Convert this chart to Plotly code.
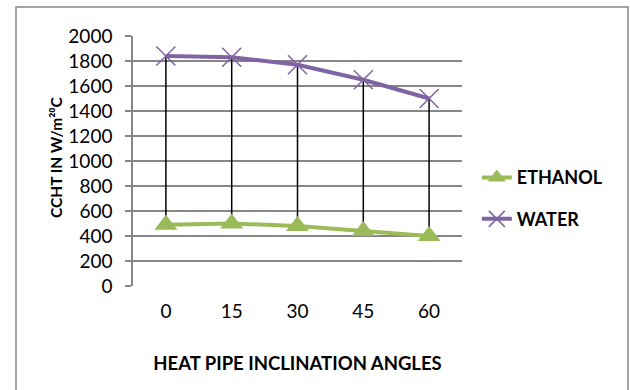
import plotly.graph_objects as go

angles = ["0", "15", "30", "45", "60"]
ethanol = [490, 500, 480, 440, 400]
water = [1840, 1830, 1770, 1650, 1500]

FONT = "Lato"
GRID = "#868686"

# high-low drop lines built from the series values
drop_x, drop_y = [], []
for a, w, e in zip(angles, water, ethanol):
    drop_x += [a, a, None]
    drop_y += [w, e, None]

fig = go.Figure()
fig.add_trace(go.Scatter(x=drop_x, y=drop_y, mode="lines",
                         line=dict(color="black", width=1.5),
                         showlegend=False, hoverinfo="skip"))
fig.add_trace(go.Scatter(x=angles, y=ethanol, name="ETHANOL", mode="lines+markers",
                         legendgroup="e",
                         line=dict(color="#9BBB59", width=4),
                         marker=dict(symbol="triangle-up", size=20, color="#9BBB59")))
fig.add_trace(go.Scatter(x=angles, y=water, name="WATER", mode="lines+markers",
                         legendgroup="w",
                         line=dict(color="#8064A2", width=4),
                         marker=dict(symbol="x-thin", size=19,
                                     line=dict(color="#8064A2", width=1.5))))

fig.update_layout(
    width=630, height=390,
    margin=dict(l=133, r=168, t=36, b=104),
    paper_bgcolor="white", plot_bgcolor="white",
    font=dict(family=FONT, size=19, color="black"),
    legend=dict(x=1.045, xanchor="left", y=0.507, yanchor="top",
                font=dict(family=FONT, size=18, color="black", weight="bold"),
                tracegroupgap=15, bgcolor="rgba(0,0,0,0)"),
    xaxis=dict(type="category", range=[-0.5, 4.5], showgrid=False,
               showline=False, ticks="", ticklabelstandoff=12,
               title=dict(text="<b>HEAT PIPE INCLINATION ANGLES</b>",
                          font=dict(family=FONT, size=18.5), standoff=36)),
    yaxis=dict(range=[0, 2000], dtick=200, showgrid=True, gridcolor=GRID,
               gridwidth=1.5, showline=True, linecolor=GRID, linewidth=1.5,
               ticks="outside", ticklen=6, tickcolor=GRID, tickwidth=1.5,
               ticklabelstandoff=9, zeroline=False),
    annotations=[dict(text="<b>CCHT IN W/m²⁰C</b>",
                      xref="paper", yref="paper", x=-0.268, y=0.515,
                      textangle=-90, showarrow=False,
                      font=dict(family=FONT, size=15.5, color="black"))],
    shapes=[dict(type="rect", xref="paper", yref="paper",
                 x0=-0.3556, x1=1.5046, y0=-0.45, y1=1.116,
                 line=dict(color=GRID, width=1.5), layer="below")],
)

fig.write_html("out.html")
